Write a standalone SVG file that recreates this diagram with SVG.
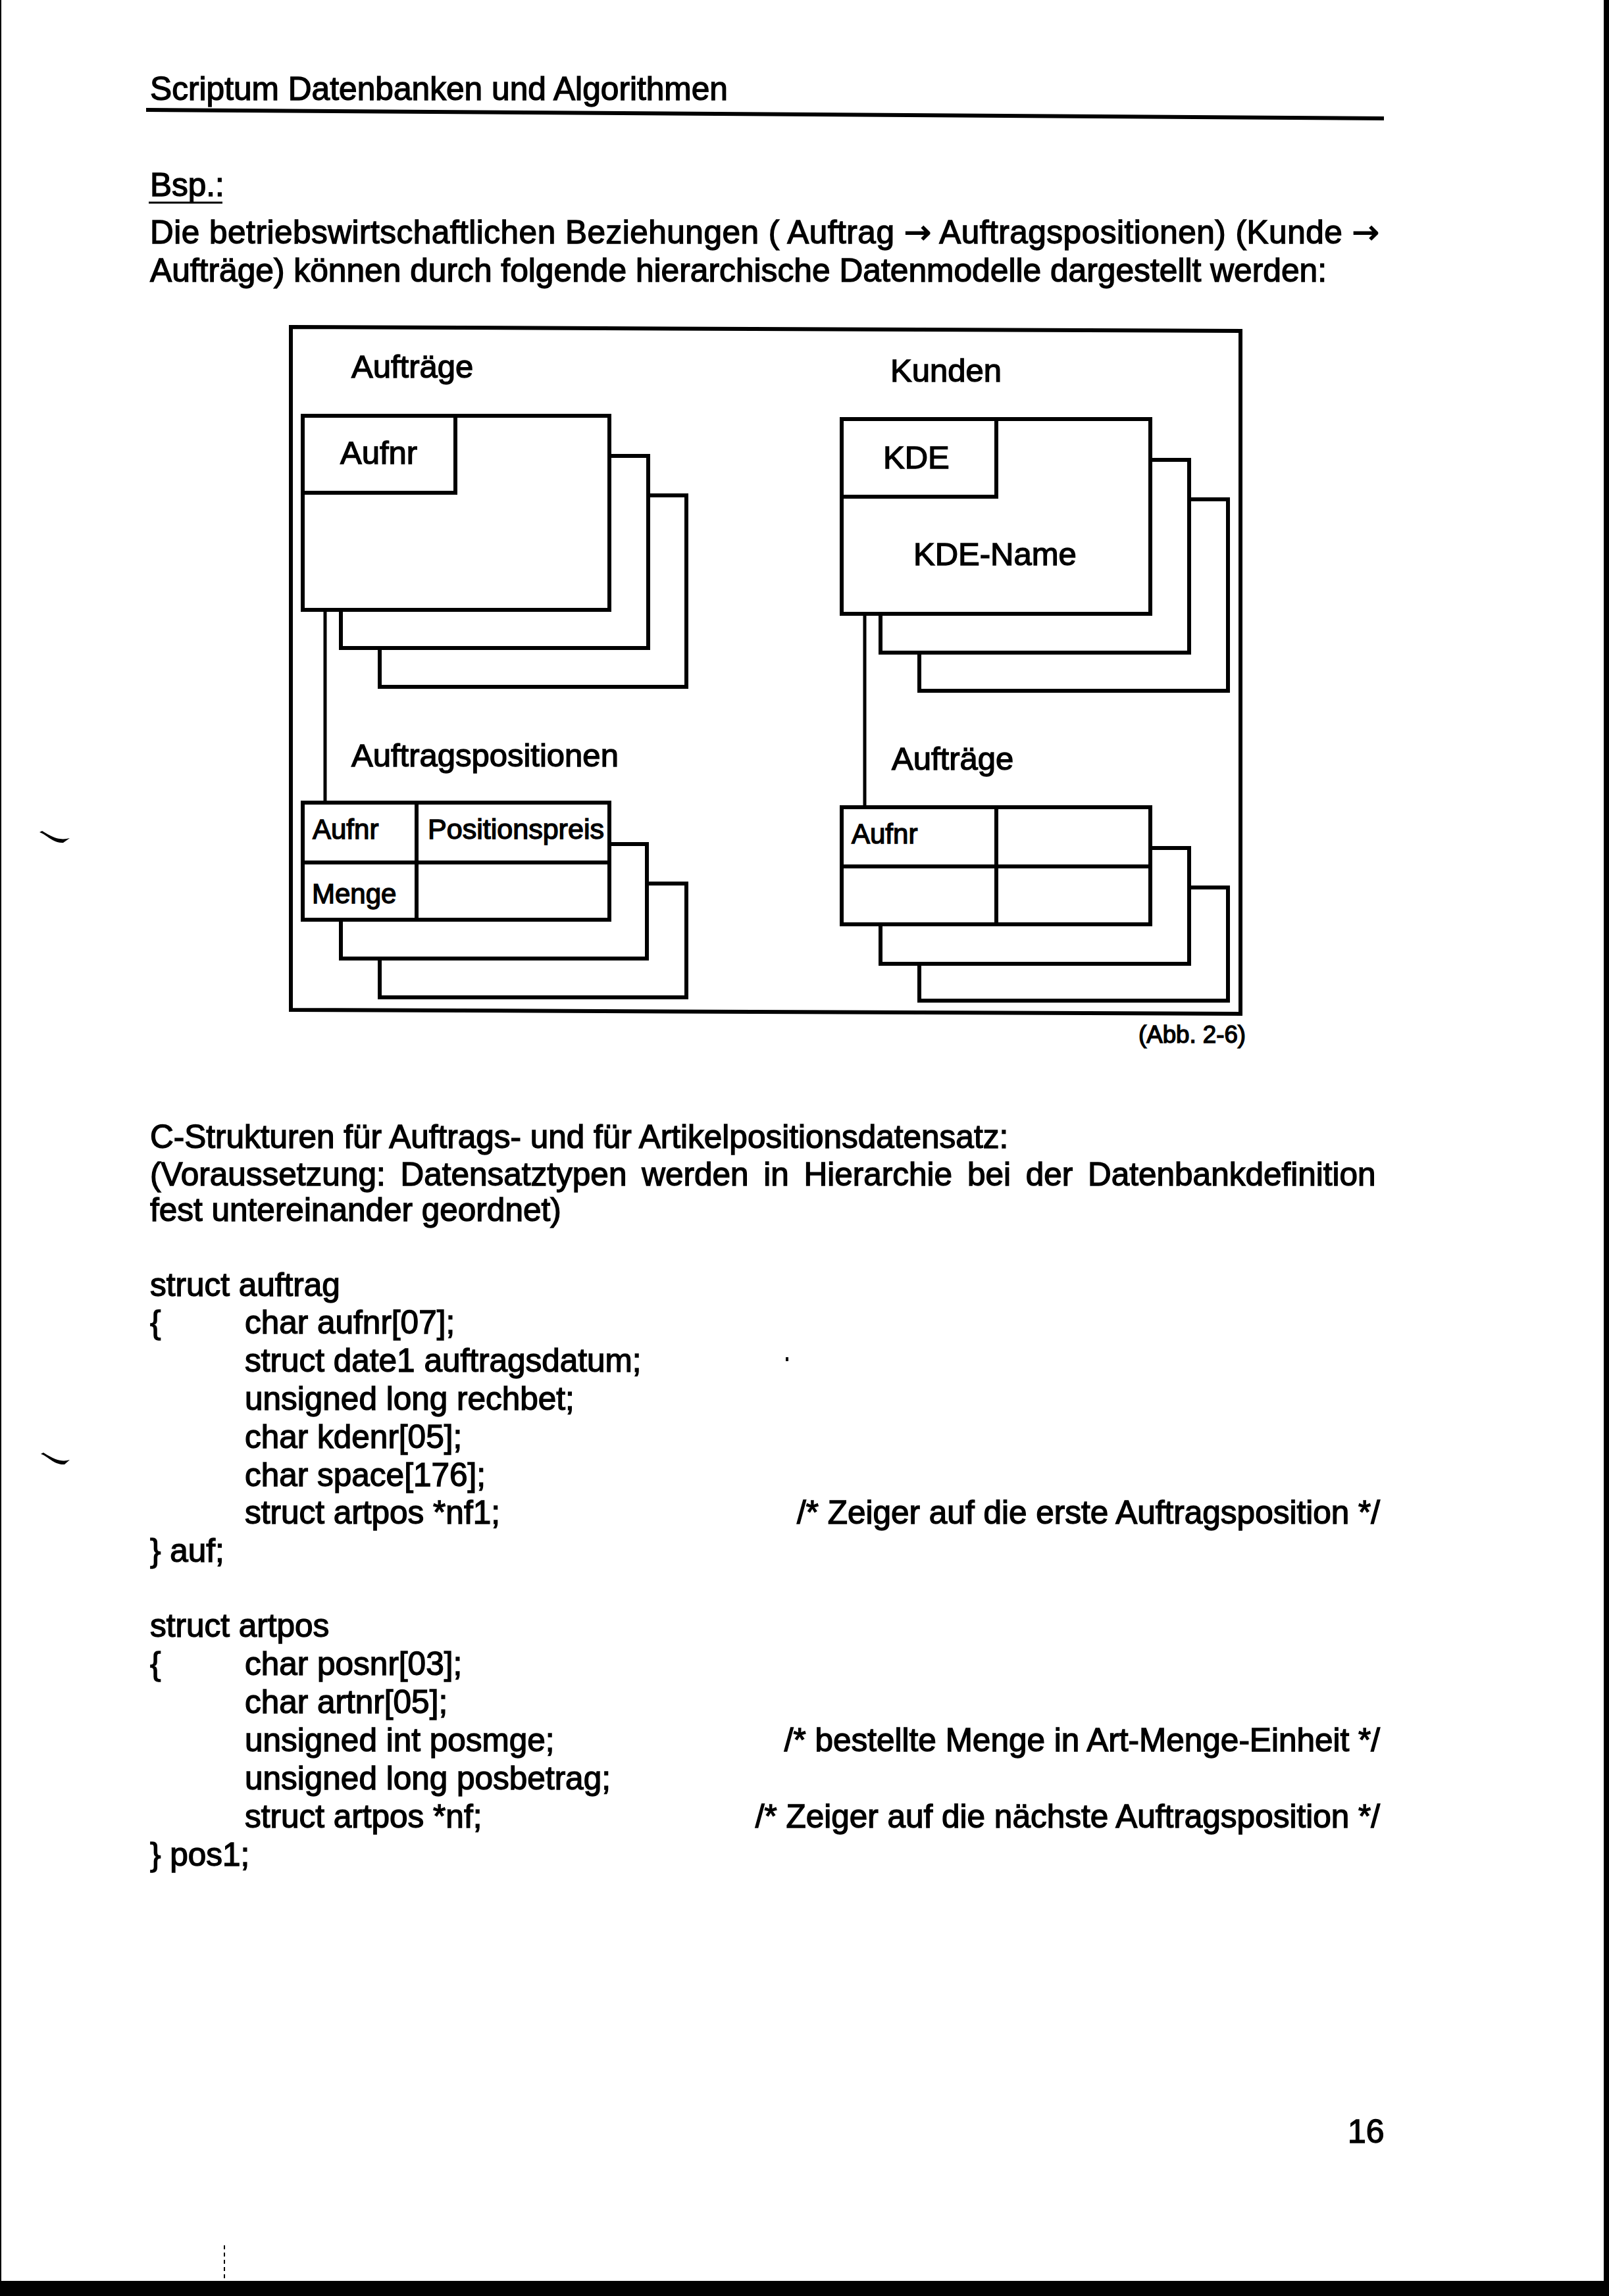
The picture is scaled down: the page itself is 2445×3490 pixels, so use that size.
<svg xmlns="http://www.w3.org/2000/svg" width="2445" height="3490" viewBox="0 0 2445 3490">
<style>
text{font-family:"Liberation Sans",Arial,sans-serif;fill:#000;stroke:#000;stroke-width:1.4px}
.b{font-size:49.5px}
.lbl{font-size:49px}
.sm{font-size:42px}
.arr{font-family:"DejaVu Sans",sans-serif}
.box{fill:#fff;stroke:#000;stroke-width:6}
.ln{fill:none;stroke:#000;stroke-width:6;stroke-linecap:square}
.con{fill:none;stroke:#000;stroke-width:5}
</style>
<rect x="0" y="0" width="2445" height="3490" fill="#fff"/>
<!-- scan borders -->
<rect x="0" y="0" width="2" height="3490" fill="#000"/>
<rect x="2437" y="0" width="8" height="3490" fill="#000"/>
<rect x="0" y="3467" width="2445" height="23" fill="#000"/>
<line x1="341" y1="3413" x2="341" y2="3467" stroke="#000" stroke-width="2" stroke-dasharray="6 5"/>
<path d="M60,1265 C70,1268 80,1282 96,1281 L106,1274 C94,1277 84,1276 64,1263 Z" fill="#000"/>
<path d="M62,2210 C72,2213 82,2227 98,2226 L106,2219 C96,2222 86,2221 66,2208 Z" fill="#000"/>
<rect x="1194" y="2063" width="4" height="6" fill="#000"/>

<!-- header -->
<g id="header">
<text class="b" x="228" y="152" textLength="878" lengthAdjust="spacingAndGlyphs">Scriptum Datenbanken und Algorithmen</text>
<line x1="222" y1="167" x2="2103" y2="180" stroke="#000" stroke-width="6"/>
</g>

<g id="intro">
<text class="b" x="228" y="298">Bsp.:</text>
<line x1="226" y1="308" x2="338" y2="308" stroke="#000" stroke-width="3"/>
<text class="b" x="228" y="370" textLength="1868" lengthAdjust="spacing">Die betriebswirtschaftlichen Beziehungen ( Auftrag <tspan class="arr">→</tspan> Auftragspositionen) (Kunde <tspan class="arr">→</tspan></text>
<text class="b" x="228" y="428" textLength="1788" lengthAdjust="spacingAndGlyphs">Aufträge) können durch folgende hierarchische Datenmodelle dargestellt werden:</text>
</g>

<!-- diagram frame -->
<g id="frame">
<polygon points="442,497 1885,503 1885,1541 442,1535" fill="none" stroke="#000" stroke-width="6"/>
<text class="b" x="1730" y="1585" style="font-size:36px" textLength="163" lengthAdjust="spacingAndGlyphs">(Abb. 2-6)</text>
</g>

<!-- connectors -->
<g id="connectors">
<line class="con" x1="494" y1="927" x2="494" y2="1220"/>
<line class="con" x1="1314" y1="933" x2="1314" y2="1227"/>
</g>

<!-- node: Auftraege (left top) -->
<g id="node-auftraege">
<text class="lbl" x="534" y="574">Aufträge</text>
<polyline class="ln" points="985,753 1043,753 1043,1044 577,1044 577,985"/>
<polyline class="ln" points="926,693 985,693 985,985 518,985 518,927"/>
<rect class="box" x="460" y="632" width="466" height="295"/>
<rect class="box" x="460" y="632" width="232" height="117"/>
<text class="lbl" x="517" y="705">Aufnr</text>
</g>

<!-- node: Auftragspositionen (left bottom) -->
<g id="node-auftragspositionen">
<text class="lbl" x="534" y="1165">Auftragspositionen</text>
<polyline class="ln" points="983,1343 1043,1343 1043,1516 577,1516 577,1457"/>
<polyline class="ln" points="926,1283 983,1283 983,1457 518,1457 518,1398"/>
<rect class="box" x="460" y="1220" width="466" height="178"/>
<line class="ln" x1="460" y1="1311" x2="926" y2="1311"/>
<line class="ln" x1="633" y1="1220" x2="633" y2="1398"/>
<text class="sm" x="475" y="1275">Aufnr</text>
<text class="sm" x="650" y="1275" textLength="268" lengthAdjust="spacingAndGlyphs">Positionspreis</text>
<text class="sm" x="474" y="1373">Menge</text>
</g>

<!-- node: Kunden (right top) -->
<g id="node-kunden">
<text class="lbl" x="1353" y="580">Kunden</text>
<polyline class="ln" points="1807,759 1866,759 1866,1050 1397,1050 1397,992"/>
<polyline class="ln" points="1748,699 1807,699 1807,992 1338,992 1338,933"/>
<rect class="box" x="1279" y="637" width="469" height="296"/>
<rect class="box" x="1279" y="637" width="235" height="118"/>
<text class="lbl" x="1342" y="712">KDE</text>
<text class="lbl" x="1388" y="859">KDE-Name</text>
</g>

<!-- node: Auftraege (right bottom) -->
<g id="node-kunden-auftraege">
<text class="lbl" x="1355" y="1170">Aufträge</text>
<polyline class="ln" points="1807,1349 1866,1349 1866,1521 1397,1521 1397,1465"/>
<polyline class="ln" points="1748,1289 1807,1289 1807,1465 1338,1465 1338,1405"/>
<rect class="box" x="1279" y="1227" width="469" height="178"/>
<line class="ln" x1="1279" y1="1317" x2="1748" y2="1317"/>
<line class="ln" x1="1514" y1="1227" x2="1514" y2="1405"/>
<text class="sm" x="1294" y="1282">Aufnr</text>
</g>

<!-- C structures text -->
<g id="cstruct">
<text class="b" x="228" y="1745">C-Strukturen für Auftrags- und für Artikelpositionsdatensatz:</text>
<text class="b" x="228" y="1802" word-spacing="9">(Voraussetzung: Datensatztypen werden in Hierarchie bei der Datenbankdefinition</text>
<text class="b" x="228" y="1856">fest untereinander geordnet)</text>

<text class="b" x="228" y="1970">struct auftrag</text>
<text class="b" x="228" y="2027">{</text>
<text class="b" x="372" y="2027">char aufnr[07];</text>
<text class="b" x="372" y="2085">struct date1 auftragsdatum;</text>
<text class="b" x="372" y="2143">unsigned long rechbet;</text>
<text class="b" x="372" y="2201">char kdenr[05];</text>
<text class="b" x="372" y="2259">char space[176];</text>
<text class="b" x="372" y="2316">struct artpos *nf1;</text>
<text class="b" x="2097" y="2316" text-anchor="end">/* Zeiger auf die erste Auftragsposition */</text>
<text class="b" x="228" y="2374">} auf;</text>

<text class="b" x="228" y="2488">struct artpos</text>
<text class="b" x="228" y="2546">{</text>
<text class="b" x="372" y="2546">char posnr[03];</text>
<text class="b" x="372" y="2604">char artnr[05];</text>
<text class="b" x="372" y="2662">unsigned int posmge;</text>
<text class="b" x="2097" y="2662" text-anchor="end">/* bestellte Menge in Art-Menge-Einheit */</text>
<text class="b" x="372" y="2720">unsigned long posbetrag;</text>
<text class="b" x="372" y="2778">struct artpos *nf;</text>
<text class="b" x="2097" y="2778" text-anchor="end">/* Zeiger auf die nächste Auftragsposition */</text>
<text class="b" x="228" y="2836">} pos1;</text>
</g>

<text class="b" x="2048" y="3257" style="font-size:50px">16</text>
</svg>
